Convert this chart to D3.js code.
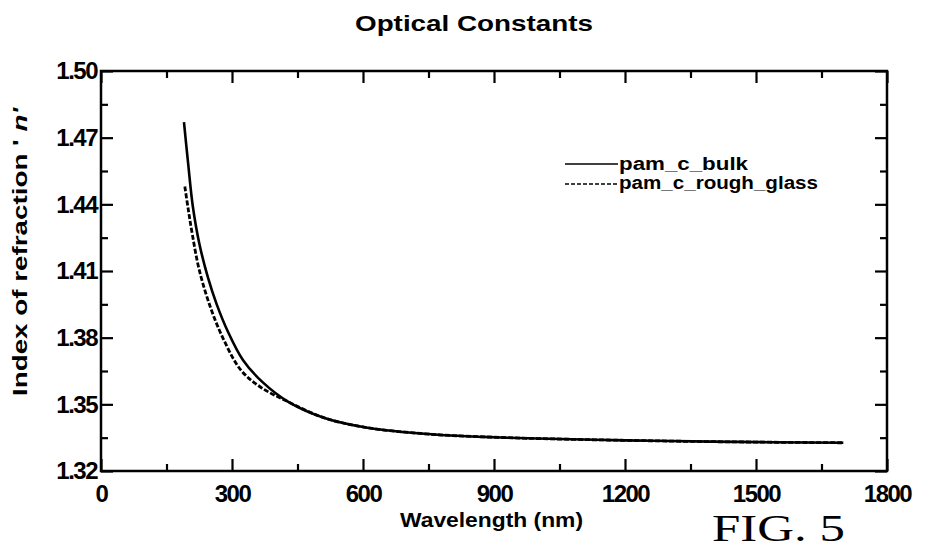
<!DOCTYPE html>
<html>
<head>
<meta charset="utf-8">
<script src="https://cdn.jsdelivr.net/npm/d3@7"></script>
<style>
  body { margin: 0; background: #fff; }
  text { font-family: "Liberation Sans", Arial, sans-serif; font-weight: bold; fill: #000; }
</style>
</head>
<body>
<div id="chart"></div>
<script>
// values
var bulkWavelength = [190, 200, 210, 225, 245, 265, 290, 325, 370, 430, 510, 610, 725, 800, 900, 1000, 1200, 1400, 1700];
var bulkIndex = [1.477, 1.4575, 1.4395, 1.4225, 1.407, 1.395, 1.383, 1.370, 1.360, 1.351, 1.344, 1.3395, 1.3370, 1.3360, 1.3352, 1.3346, 1.3338, 1.3332, 1.3327];

var roughWavelength = [192, 200, 210, 225, 250, 280, 320, 365, 430, 510, 610, 725, 800, 900, 1000, 1200, 1400, 1700];
var roughIndex = [1.448, 1.4375, 1.4255, 1.4105, 1.394, 1.3795, 1.3655, 1.3578, 1.351, 1.344, 1.3395, 1.3370, 1.3360, 1.3352, 1.3346, 1.3338, 1.3332, 1.3327];

var seriesNames = ["pam_c_bulk", "pam_c_rough_glass"];
var xTicks = [0, 300, 600, 900, 1200, 1500, 1800];
var yTicks = [1.32, 1.35, 1.38, 1.41, 1.44, 1.47, 1.50];

var svgWidth = 927;
var svgHeight = 550;
var margin = { top: 71, right: 40, bottom: 79, left: 101 };
var chartWidth = 887 - margin.left;
var chartHeight = 471 - margin.top;

var svg = d3.select("#chart")
  .append("svg")
  .attr("width", svgWidth)
  .attr("height", svgHeight);

svg.append("rect").attr("width", svgWidth).attr("height", svgHeight).attr("fill", "#fff");

var chartGroup = svg.append("g")
  .attr("transform", `translate(${margin.left}, ${margin.top})`);

var x = d3.scaleLinear().domain([0, 1800]).range([0, chartWidth]);
var y = d3.scaleLinear().domain([1.32, 1.50]).range([chartHeight, 0]);

var xMinor = d3.range(150, 1800, 300);
var yMinor = d3.range(0, 6).map(i => 1.335 + i * 0.03);

// axes: ticks point inward on all four sides
function styleAxis(g) {
  g.select(".domain").remove();
  g.selectAll("line").attr("stroke", "#000").attr("stroke-width", 2.2);
  g.selectAll("text").style("font-size", "24px").style("letter-spacing", "-1.5px").attr("fill", "#000");
}

chartGroup.append("g")
  .attr("transform", `translate(0, ${chartHeight})`)
  .call(d3.axisBottom(x).tickValues(xTicks).tickFormat(d3.format("d")).tickSize(-12).tickPadding(14))
  .call(styleAxis);
chartGroup.append("g")
  .attr("transform", `translate(0, ${chartHeight})`)
  .call(d3.axisBottom(x).tickValues(xMinor).tickFormat("").tickSize(-7))
  .call(styleAxis);
chartGroup.append("g")
  .call(d3.axisTop(x).tickValues(xTicks).tickFormat("").tickSize(-12))
  .call(styleAxis);
chartGroup.append("g")
  .call(d3.axisTop(x).tickValues(xMinor).tickFormat("").tickSize(-7))
  .call(styleAxis);

chartGroup.append("g")
  .call(d3.axisLeft(y).tickValues(yTicks).tickFormat(d3.format(".2f")).tickSize(-12).tickPadding(4))
  .call(styleAxis);
chartGroup.append("g")
  .call(d3.axisLeft(y).tickValues(yMinor).tickFormat("").tickSize(-7))
  .call(styleAxis);
chartGroup.append("g")
  .attr("transform", `translate(${chartWidth}, 0)`)
  .call(d3.axisRight(y).tickValues(yTicks).tickFormat("").tickSize(-12))
  .call(styleAxis);
chartGroup.append("g")
  .attr("transform", `translate(${chartWidth}, 0)`)
  .call(d3.axisRight(y).tickValues(yMinor).tickFormat("").tickSize(-7))
  .call(styleAxis);

// frame
chartGroup.append("rect")
  .attr("width", chartWidth)
  .attr("height", chartHeight)
  .attr("fill", "none")
  .attr("stroke", "#000")
  .attr("stroke-width", 2.5);

// curves
var line = d3.line()
  .x(d => x(d[0]))
  .y(d => y(d[1]))
  .curve(d3.curveCatmullRom.alpha(0.5));

chartGroup.append("path")
  .datum(d3.zip(bulkWavelength, bulkIndex))
  .attr("d", line)
  .attr("fill", "none")
  .attr("stroke", "#000")
  .attr("stroke-width", 2.6);

chartGroup.append("path")
  .datum(d3.zip(roughWavelength, roughIndex))
  .attr("d", line)
  .attr("fill", "none")
  .attr("stroke", "#000")
  .attr("stroke-width", 2.8)
  .attr("stroke-dasharray", "5,2");

// legend
var legend = svg.append("g");
legend.append("line")
  .attr("x1", 565).attr("x2", 618).attr("y1", 164).attr("y2", 164)
  .attr("stroke", "#000").attr("stroke-width", 1.6);
legend.append("text")
  .attr("x", 619).attr("y", 170)
  .attr("textLength", 129).attr("lengthAdjust", "spacingAndGlyphs")
  .style("font-size", "18px")
  .text(seriesNames[0]);
legend.append("line")
  .attr("x1", 565).attr("x2", 618).attr("y1", 184).attr("y2", 184)
  .attr("stroke", "#000").attr("stroke-width", 1.6)
  .attr("stroke-dasharray", "4,2");
legend.append("text")
  .attr("x", 619).attr("y", 189)
  .attr("textLength", 199).attr("lengthAdjust", "spacingAndGlyphs")
  .style("font-size", "18px")
  .text(seriesNames[1]);

// title and axis labels
svg.append("text")
  .attr("x", 355).attr("y", 31)
  .attr("textLength", 238).attr("lengthAdjust", "spacingAndGlyphs")
  .style("font-size", "22px")
  .text("Optical Constants");

svg.append("text")
  .attr("x", 400).attr("y", 527)
  .attr("textLength", 183).attr("lengthAdjust", "spacingAndGlyphs")
  .style("font-size", "21px")
  .text("Wavelength (nm)");

var yLabel = svg.append("text")
  .attr("transform", "translate(27, 396) rotate(-90)")
  .attr("x", 0).attr("y", 0)
  .attr("textLength", 288).attr("lengthAdjust", "spacingAndGlyphs")
  .style("font-size", "20px");
yLabel.append("tspan").text("Index of refraction ' ");
yLabel.append("tspan").style("font-style", "italic").text("n'");

// figure caption at the bottom right
svg.append("text")
  .attr("x", 712).attr("y", 541)
  .attr("textLength", 133).attr("lengthAdjust", "spacingAndGlyphs")
  .style("font-family", "'Liberation Serif', 'Times New Roman', serif")
  .style("font-weight", "normal")
  .style("font-size", "38px")
  .text("FIG. 5");
</script>
</body>
</html>
